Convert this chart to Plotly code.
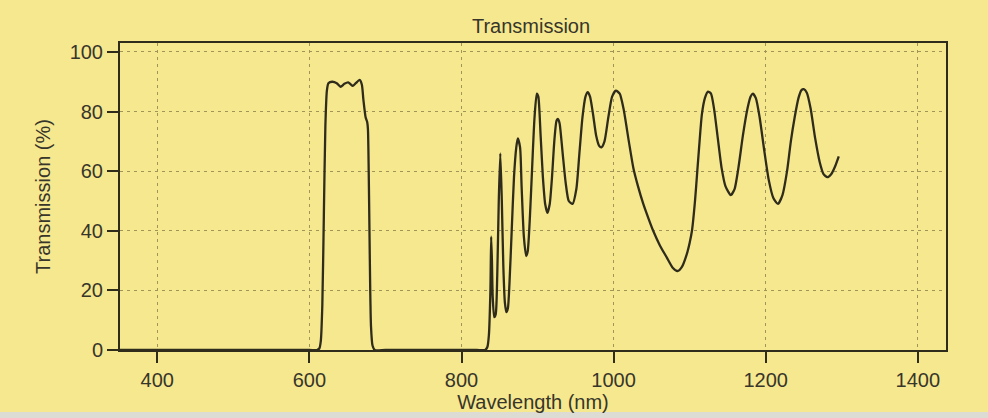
import plotly.graph_objects as go

wavelength_nm = [
    350, 600, 610, 613, 615, 617, 619, 621, 623, 625, 630, 636, 641, 646, 651, 654, 657,
    661, 666, 669, 671, 674, 676, 677, 678, 679, 680, 681, 683, 686, 700, 820, 831,
    834, 836, 838, 839, 840, 841, 843, 845, 847, 849, 851, 853, 855, 857, 859, 861,
    863, 866, 869, 872, 874, 877, 879, 882, 885, 887, 890, 893, 896, 899, 901, 904,
    907, 910, 913, 916, 919, 922, 925, 927, 929, 933, 937, 941, 946, 951, 955, 959,
    963, 966, 969, 973, 977, 981, 984, 988, 993, 998, 1003, 1008, 1013, 1020, 1026,
    1032, 1039, 1046, 1052, 1061, 1070, 1078, 1084, 1090, 1096, 1100, 1103, 1107,
    1110, 1113, 1116, 1120, 1124, 1128, 1132, 1137, 1142, 1147, 1154, 1159, 1164,
    1170, 1176, 1180, 1183, 1187, 1192, 1198, 1204, 1210, 1216, 1222, 1228, 1233,
    1238, 1243, 1247, 1250, 1254, 1259, 1265, 1271, 1276, 1281, 1286, 1291, 1296,
]
transmission_pct = [
    0, 0, 0, 0.5, 3, 15, 45, 75, 87, 89.5, 90, 89.5, 88.3, 89.3, 89.8, 89.2, 88.6,
    89.5, 90.6, 89, 84, 78, 76.5, 74, 60, 40, 20, 8, 1.5, 0, 0, 0, 0,
    1, 5, 20, 38, 30, 18, 11, 12, 25, 50, 66, 50, 28, 16, 12.7, 14,
    22, 40, 58, 68, 71, 68, 55, 38, 31.5, 33, 45, 62, 78, 86, 85, 72,
    58, 49, 46, 49, 58, 70, 77, 77.5, 76, 66, 56, 50, 49, 54, 66, 78,
    85, 86.5, 85, 79, 72, 68.5, 68, 70, 78, 85, 87, 86, 81, 70, 61,
    55, 49, 44, 40, 35, 31, 27.5, 26.5, 28, 32, 36, 40, 50,
    60, 70, 79, 84.5, 86.7, 86, 81, 71, 61, 55, 52, 54, 61,
    72, 81, 85, 86, 84.5, 78, 67, 57, 51, 49, 52, 60, 70,
    78, 84.5, 87.2, 87.5, 86.3, 81, 71, 63, 59, 58, 59, 61.5, 65,
]
x_ticks = [400, 600, 800, 1000, 1200, 1400]
y_ticks = [0, 20, 40, 60, 80, 100]

BG = "#f6e88f"
INK = "#2f2c1c"
GRID = "#9e9556"
TEXT = "#38362a"
FONT = "Liberation Sans, Arial, sans-serif"

fig = go.Figure()
fig.add_trace(go.Scatter(
    x=wavelength_nm, y=transmission_pct, mode="lines",
    line=dict(color=INK, width=2.3, shape="spline", smoothing=0.6),
    showlegend=False, hoverinfo="skip",
))

fig.update_layout(
    width=988, height=418,
    margin=dict(l=120, r=42, t=43, b=68),
    paper_bgcolor=BG, plot_bgcolor=BG,
    font=dict(family=FONT, color=TEXT, size=20),
    title=dict(text="Transmission", x=531 / 988, xref="container", xanchor="center",
               y=1 - 26 / 418, yref="container", yanchor="middle",
               font=dict(size=20, family=FONT, color=TEXT)),
    showlegend=False,
)

fig.update_xaxes(
    range=[351, 1437], tickvals=x_ticks, ticktext=[str(v) for v in x_ticks],
    showgrid=True, gridcolor=GRID, griddash="3px,4px", gridwidth=1.3,
    showline=True, linecolor=INK, linewidth=2, mirror=True,
    ticks="outside", ticklen=11, tickwidth=2, tickcolor=INK,
    zeroline=False, tickfont=dict(size=20),
    title=dict(text="Wavelength (nm)", font=dict(size=20), standoff=2),
)
fig.update_yaxes(
    range=[0, 103], tickvals=y_ticks, ticktext=[str(v) for v in y_ticks],
    showgrid=True, gridcolor=GRID, griddash="3px,4px", gridwidth=1.3,
    showline=True, linecolor=INK, linewidth=2, mirror=True,
    ticks="outside", ticklen=11, tickwidth=2, tickcolor=INK,
    zeroline=False, tickfont=dict(size=20),
    title=dict(text="Transmission (%)", font=dict(size=20), standoff=14),
)

# light strip along the bottom edge of the scanned image
fig.add_shape(type="rect", xref="paper", yref="paper", x0=-0.2, x1=1.1,
              y0=-68 / 307 - 0.01, y1=-(68 - 6) / 307, fillcolor="#dcdcd4",
              line_width=0, layer="below")

fig.write_html("out.html")
